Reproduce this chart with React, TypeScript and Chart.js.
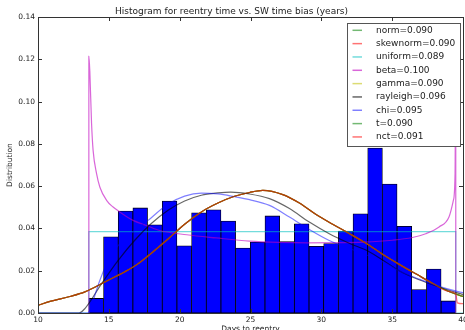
import React, { useEffect, useRef } from "react";
import { Chart, registerables } from "chart.js";

Chart.register(...registerables);

// Histogram bin edges (days) and normalised bin heights
const binEdges = [
  13.59, 14.626, 15.662, 16.698, 17.734, 18.77, 19.806, 20.842, 21.878, 22.914,
  23.95, 24.986, 26.022, 27.058, 28.094, 29.13, 30.166, 31.202, 32.238, 33.274,
  34.31, 35.346, 36.382, 37.418, 38.454, 39.49,
];
const binDensity = [
  0.0069, 0.036, 0.0482, 0.0497, 0.0417, 0.0529, 0.0318, 0.0474, 0.0488, 0.0435,
  0.0307, 0.0336, 0.0459, 0.0338, 0.0422, 0.0315, 0.0328, 0.0388, 0.0469, 0.078,
  0.061, 0.041, 0.0111, 0.0208, 0.0057,
];

// Fitted pdf samples
const normX = [
  10, 10.85, 12.25, 13.31, 14.72, 16.13, 17.0, 18.0, 19.18, 20.35, 21.53, 22.7, 23.87,
  24.93, 25.87, 27.28, 28.45, 29.63, 30.8, 31.97, 33.15, 34.32, 35.5, 36.7, 37.9, 39.0, 40,
];
const normY = [
  0.0036, 0.0055, 0.0078, 0.01, 0.0147, 0.0195, 0.023, 0.0283, 0.035, 0.042, 0.0478, 0.052,
  0.0552, 0.057, 0.058, 0.056, 0.052, 0.0466, 0.042, 0.0376, 0.033, 0.0278, 0.023, 0.0184,
  0.0138, 0.0102, 0.0078,
];
const nctX = [
  10, 10.85, 12.25, 13.31, 14.72, 16.13, 17.0, 18.0, 19.18, 20.35, 21.53, 22.7, 23.87,
  24.93, 25.87, 27.28, 28.45, 29.63, 30.8, 31.97, 33.15, 34.32, 35.5, 36.7, 37.9, 39.0,
  39.5, 39.6, 40,
];
const nctY = [
  0.0036, 0.0055, 0.0078, 0.01, 0.0147, 0.0195, 0.023, 0.0283, 0.035, 0.042, 0.0478, 0.052,
  0.0552, 0.057, 0.058, 0.056, 0.052, 0.0466, 0.042, 0.0376, 0.033, 0.0278, 0.023, 0.0184,
  0.0138, 0.0102, 0.0089, 0.0048, 0.0044,
];
const uniformX = [10, 13.589, 13.59, 39.49, 39.491, 40];
const uniformY = [0, 0, 0.0385, 0.0385, 0, 0];
const betaX = [
  13.589, 13.59, 13.66, 13.78, 13.89, 14.13, 14.37, 14.84, 15.3, 15.77, 16.71, 17.65, 18.59,
  20.5, 22.58, 24.93, 27.0, 29.0, 31.0, 33.0, 35.02, 36.43, 37.37, 38.31, 39.01, 39.32,
  39.44, 39.489, 39.49,
];
const betaY = [
  0, 0.1214, 0.114, 0.0897, 0.0769, 0.066, 0.0595, 0.0533, 0.0501, 0.0478, 0.0438, 0.0414,
  0.039, 0.037, 0.0355, 0.034, 0.0334, 0.0332, 0.0333, 0.0335, 0.0344, 0.0357, 0.0375,
  0.0407, 0.0454, 0.0533, 0.0659, 0.125, 0,
];
const rayleighX = [
  10, 12.9, 13.31, 14.49, 15.66, 16.83, 18.0, 19.18, 20.35, 21.53, 22.7, 23.6, 24.93, 26.34,
  27.75, 29.15, 30.56, 31.97, 33.38, 34.56, 35.49, 36.9, 38.31, 39.72, 40,
];
const rayleighY = [
  0, 0, 0.0021, 0.0139, 0.0249, 0.0344, 0.0423, 0.0486, 0.053, 0.0557, 0.0568, 0.0572,
  0.0563, 0.0541, 0.0494, 0.043, 0.0375, 0.033, 0.029, 0.024, 0.02, 0.0157, 0.0123, 0.0093,
  0.0088,
];
const chiX = [
  10, 13.5, 13.75, 14.01, 14.37, 15.07, 15.89, 16.83, 17.77, 19.18, 20.35, 21.53, 22.7,
  23.87, 24.93, 26.34, 27.75, 29.15, 30.56, 31.97, 33.38, 34.56, 35.49, 36.9, 38.31, 39.72, 40,
];
const chiY = [
  0, 0, 0.0025, 0.0083, 0.0155, 0.0265, 0.0336, 0.0391, 0.0438, 0.0515, 0.0553, 0.0567,
  0.0563, 0.055, 0.0536, 0.0509, 0.0454, 0.0395, 0.0343, 0.0305, 0.027, 0.0235, 0.02, 0.016,
  0.0126, 0.01, 0.0096,
];

const fitLabels = [
  "norm=0.090",
  "skewnorm=0.090",
  "uniform=0.089",
  "beta=0.100",
  "gamma=0.090",
  "rayleigh=0.096",
  "chi=0.095",
  "t=0.090",
  "nct=0.091",
];
const fitColors = [
  "rgba(0,128,0,0.55)",
  "rgba(255,0,0,0.55)",
  "rgba(0,191,191,0.55)",
  "rgba(191,0,191,0.6)",
  "rgba(191,191,0,0.55)",
  "rgba(0,0,0,0.6)",
  "rgba(0,0,255,0.5)",
  "rgba(0,128,0,0.55)",
  "rgba(255,0,0,0.55)",
];

const xTicks = [10, 15, 20, 25, 30, 35, 40];
const yTicks = [0, 0.02, 0.04, 0.06, 0.08, 0.1, 0.12, 0.14];

const FONT = "'DejaVu Sans', sans-serif";
const TEXT = "#222";

const pts = (xs: number[], ys: number[]) => xs.map((x, i) => ({ x, y: ys[i] }));

// Frame with inward ticks on all four sides
const framePlugin = {
  id: "frame",
  afterDatasetsDraw(chart: any) {
    const { ctx, chartArea: a, scales } = chart;
    ctx.save();
    ctx.strokeStyle = "#333";
    ctx.lineWidth = 1;
    ctx.beginPath();
    const len = 4;
    xTicks.forEach((v) => {
      const p = Math.round(scales.x.getPixelForValue(v)) + 0.5;
      ctx.moveTo(p, a.bottom);
      ctx.lineTo(p, a.bottom - len);
      ctx.moveTo(p, a.top);
      ctx.lineTo(p, a.top + len);
    });
    yTicks.forEach((v) => {
      const p = Math.round(scales.y.getPixelForValue(v)) + 0.5;
      ctx.moveTo(a.left, p);
      ctx.lineTo(a.left + len, p);
      ctx.moveTo(a.right, p);
      ctx.lineTo(a.right - len, p);
    });
    ctx.stroke();
    ctx.strokeRect(
      Math.round(a.left) + 0.5,
      Math.round(a.top) + 0.5,
      Math.round(a.right - a.left),
      Math.round(a.bottom - a.top)
    );
    ctx.restore();
  },
};

// Boxed legend in the upper-right corner of the plot
const legendPlugin = {
  id: "fitLegend",
  afterDraw(chart: any) {
    const { ctx, chartArea: a } = chart;
    const sets = chart.data.datasets.filter((d: any) => d.type === "line");
    const w = 113;
    const rowH = 13.33;
    const h = 123;
    const left = a.right - 3 - w;
    const top = a.top + 6;
    ctx.save();
    ctx.fillStyle = "#fff";
    ctx.fillRect(left, top, w, h);
    ctx.strokeStyle = "#555";
    ctx.lineWidth = 1;
    ctx.strokeRect(Math.round(left) + 0.5, Math.round(top) + 0.5, w, h);
    ctx.font = `9px ${FONT}`;
    ctx.textBaseline = "middle";
    ctx.textAlign = "left";
    sets.forEach((d: any, i: number) => {
      const cy = top + 7.3 + i * rowH;
      ctx.strokeStyle = d.borderColor;
      ctx.lineWidth = 1.5;
      ctx.beginPath();
      ctx.moveTo(left + 5.5, cy);
      ctx.lineTo(left + 15, cy);
      ctx.stroke();
      ctx.fillStyle = TEXT;
      ctx.fillText(d.label, left + 29, cy);
    });
    ctx.restore();
  },
};

export default function App() {
  const ref = useRef<HTMLCanvasElement | null>(null);

  useEffect(() => {
    if (!ref.current) return;
    const centers = binDensity.map((_, i) => (binEdges[i] + binEdges[i + 1]) / 2);
    const curves = [
      pts(normX, normY),
      pts(normX, normY),
      pts(uniformX, uniformY),
      pts(betaX, betaY),
      pts(normX, normY),
      pts(rayleighX, rayleighY),
      pts(chiX, chiY),
      pts(normX, normY),
      pts(nctX, nctY),
    ];
    const lineSets = curves.map((data, i) => ({
      type: "line" as const,
      label: fitLabels[i],
      data,
      borderColor: fitColors[i],
      borderWidth: 1.2,
      pointRadius: 0,
      fill: false,
      tension: i === 2 ? 0 : 0.4,
      cubicInterpolationMode: i === 2 ? ("default" as const) : ("monotone" as const),
      order: 9 - i,
    }));

    const chart = new Chart(ref.current, {
      type: "line",
      data: {
        datasets: [
          ...lineSets,
          {
            type: "bar" as const,
            label: "hist",
            data: centers.map((x, i) => ({ x, y: binDensity[i] })),
            backgroundColor: "#0000ff",
            borderColor: "#000",
            borderWidth: 0.8,
            borderSkipped: false,
            barPercentage: 1,
            categoryPercentage: 1,
            grouped: false,
            order: 20,
          } as any,
        ],
      },
      options: {
        animation: false,
        responsive: false,
        events: [],
        layout: { padding: { left: 0, right: 2, top: 0, bottom: 0 } },
        plugins: {
          legend: { display: false },
          tooltip: { enabled: false },
          title: {
            display: true,
            text: "Histogram for reentry time vs. SW time bias (years)",
            color: TEXT,
            font: { family: FONT, size: 9, weight: "normal" as const, lineHeight: 1.2 },
            padding: { top: 6, bottom: 0.2 },
          },
        },
        scales: {
          x: {
            type: "linear",
            min: 10,
            max: 40,
            offset: false,
            grid: { display: false, drawTicks: false, offset: false },
            border: { display: false },
            ticks: {
              stepSize: 5,
              padding: 3,
              color: TEXT,
              font: { family: FONT, size: 7.5 },
              maxRotation: 0,
              callback: (v: any) => String(v),
            },
            title: {
              display: true,
              text: "Days to reentry",
              color: TEXT,
              font: { family: FONT, size: 7.5 },
              padding: { top: 0, bottom: -3.5 },
            },
            afterFit: (s: any) => {
              s.height = 17;
              s.paddingLeft = 0;
              s.paddingRight = 0;
            },
          },
          y: {
            min: 0,
            max: 0.14,
            grid: { display: false, drawTicks: false },
            border: { display: false },
            ticks: {
              stepSize: 0.02,
              padding: 3,
              color: TEXT,
              font: { family: FONT, size: 7.5 },
              callback: (v: any) => Number(v).toFixed(2),
            },
            title: {
              display: true,
              text: "Distribution",
              color: TEXT,
              font: { family: FONT, size: 7.5 },
              padding: { top: 6, bottom: 0 },
            },
            afterFit: (s: any) => {
              s.width = 38;
              s.paddingTop = 0;
              s.paddingBottom = 0;
            },
          },
        },
      },
      plugins: [framePlugin, legendPlugin],
    });
    return () => chart.destroy();
  }, []);

  return (
    <div style={{ position: "fixed", left: 0, top: 0, width: 465, height: 330, background: "#fff" }}>
      <canvas ref={ref} width={465} height={330} style={{ display: "block" }} />
    </div>
  );
}
